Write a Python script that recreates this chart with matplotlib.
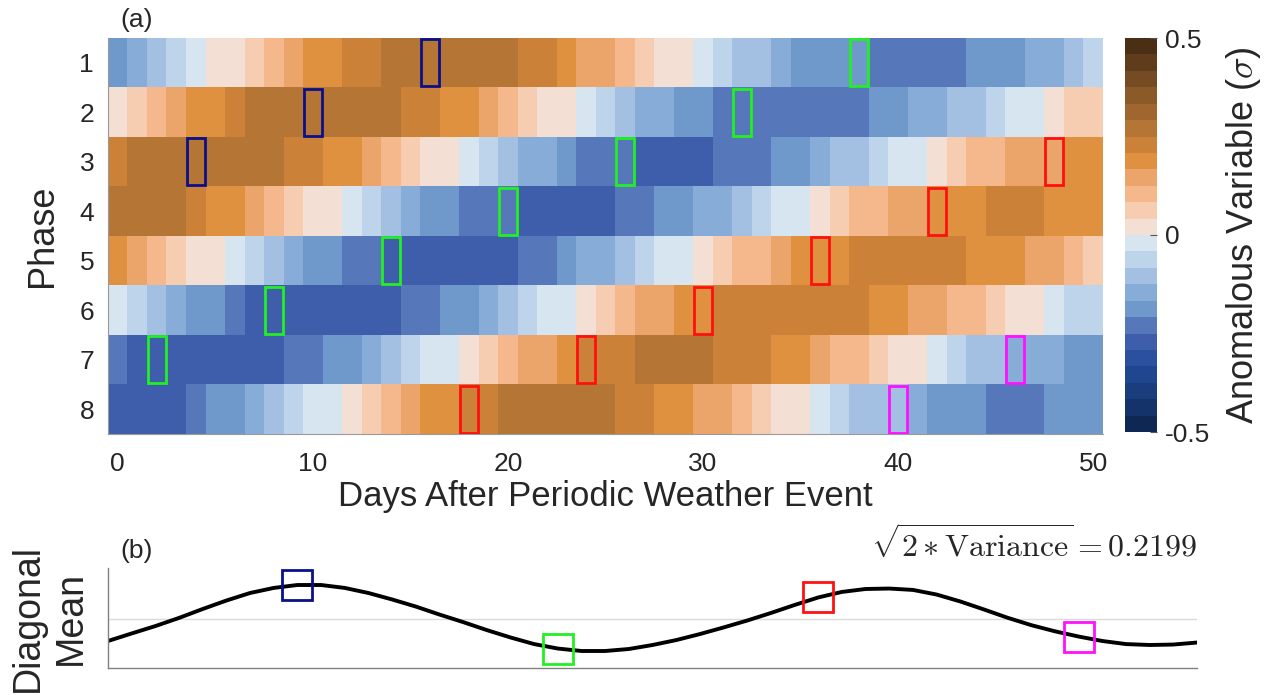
import numpy as np
import matplotlib
matplotlib.use("Agg")
import matplotlib.pyplot as plt
from matplotlib.colors import ListedColormap, Normalize
from matplotlib.patches import Rectangle

plt.rcParams['font.family'] = ['Liberation Sans', 'DejaVu Sans']
plt.rcParams['mathtext.fontset'] = 'cm'
TXT = '#262626'

# composite anomaly (sigma) by phase, days 0..50
phase1 = [-0.19,-0.15,-0.10,-0.06,-0.02, 0.02,0.02,0.06,0.10,0.15, 0.19,0.19,0.23,0.23,0.27,
          0.27,0.27,0.27,0.27,0.27, 0.27,0.23,0.23,0.19,0.15, 0.15,0.10,0.06,0.02,0.02,
          -0.02,-0.06,-0.10,-0.10,-0.15, -0.19,-0.19,-0.19,-0.19,-0.23, -0.23,-0.23,-0.23,-0.23,-0.19,
          -0.19,-0.19,-0.15,-0.15,-0.10, -0.06]
phase2 = [0.02,0.06,0.10,0.15,0.19, 0.19,0.23,0.27,0.27,0.27, 0.27,0.27,0.27,0.27,0.27,
          0.23,0.23,0.19,0.19,0.15, 0.10,0.06,0.02,0.02,-0.02, -0.06,-0.10,-0.15,-0.15,-0.19,
          -0.19,-0.23,-0.23,-0.23,-0.23, -0.23,-0.23,-0.23,-0.23,-0.19, -0.19,-0.15,-0.15,-0.10,-0.10,
          -0.06,-0.02,-0.02,0.02,0.06, 0.06]
phase3 = [0.23,0.27,0.27,0.27,0.27, 0.27,0.27,0.27,0.27,0.23, 0.23,0.19,0.19,0.15,0.10,
          0.06,0.02,0.02,-0.02,-0.06, -0.10,-0.15,-0.15,-0.19,-0.23, -0.23,-0.23,-0.27,-0.27,-0.27,
          -0.27,-0.23,-0.23,-0.23,-0.19, -0.19,-0.15,-0.10,-0.10,-0.06, -0.02,-0.02,0.02,0.06,0.10,
          0.10,0.15,0.15,0.15,0.19, 0.19]
phase4 = [0.27,0.27,0.27,0.27,0.23, 0.19,0.19,0.15,0.10,0.06, 0.02,0.02,-0.02,-0.06,-0.10,
          -0.15,-0.19,-0.19,-0.23,-0.23, -0.23,-0.27,-0.27,-0.27,-0.27, -0.27,-0.23,-0.23,-0.19,-0.19,
          -0.15,-0.15,-0.10,-0.06,-0.02, -0.02,0.02,0.06,0.10,0.10, 0.15,0.15,0.19,0.19,0.19,
          0.23,0.23,0.23,0.19,0.19, 0.19]
phase5 = [0.19,0.15,0.10,0.06,0.02, 0.02,-0.02,-0.06,-0.10,-0.15, -0.19,-0.19,-0.23,-0.23,-0.27,
          -0.27,-0.27,-0.27,-0.27,-0.27, -0.27,-0.23,-0.23,-0.19,-0.15, -0.15,-0.10,-0.06,-0.02,-0.02,
          0.02,0.06,0.10,0.10,0.15, 0.19,0.19,0.19,0.23,0.23, 0.23,0.23,0.23,0.23,0.19,
          0.19,0.19,0.15,0.15,0.10, 0.06]
phase6 = [-0.02,-0.06,-0.10,-0.15,-0.19, -0.19,-0.23,-0.27,-0.27,-0.27, -0.27,-0.27,-0.27,-0.27,-0.27,
          -0.23,-0.23,-0.19,-0.19,-0.15, -0.10,-0.06,-0.02,-0.02,0.02, 0.06,0.10,0.15,0.15,0.19,
          0.19,0.23,0.23,0.23,0.23, 0.23,0.23,0.23,0.23,0.19, 0.19,0.15,0.15,0.10,0.10,
          0.06,0.02,0.02,-0.02,-0.06, -0.06]
phase7 = [-0.23,-0.27,-0.27,-0.27,-0.27, -0.27,-0.27,-0.27,-0.27,-0.23, -0.23,-0.19,-0.19,-0.15,-0.10,
          -0.06,-0.02,-0.02,0.02,0.06, 0.10,0.15,0.15,0.19,0.23, 0.23,0.23,0.27,0.27,0.27,
          0.27,0.23,0.23,0.23,0.19, 0.19,0.15,0.10,0.10,0.06, 0.02,0.02,-0.02,-0.06,-0.10,
          -0.10,-0.15,-0.15,-0.15,-0.19, -0.19]
phase8 = [-0.27,-0.27,-0.27,-0.27,-0.23, -0.19,-0.19,-0.15,-0.10,-0.06, -0.02,-0.02,0.02,0.06,0.10,
          0.15,0.19,0.19,0.23,0.23, 0.27,0.27,0.27,0.27,0.27, 0.27,0.23,0.23,0.19,0.19,
          0.15,0.15,0.10,0.06,0.02, 0.02,-0.02,-0.06,-0.10,-0.10, -0.10,-0.15,-0.19,-0.19,-0.19,
          -0.23,-0.23,-0.23,-0.19,-0.19, -0.19]
phases = [1, 2, 3, 4, 5, 6, 7, 8]
days = np.arange(51)

# diagonal tracks: start day in phase 1, shift per phase
diag_start = [16, 38, 60, 82]
diag_color = ['#0a0f8a', '#22f022', '#ff1010', '#ff10ff']
phase_lag = 6

# mean along the diagonal, every 2 days
mean_day = list(range(0, 93, 2))
mean_val = [-0.143, -0.094, -0.046, 0.007, 0.065, 0.120, 0.169, 0.202, 0.221, 0.221,
            0.202, 0.169, 0.127, 0.081, 0.029, -0.020, -0.072, -0.120, -0.163, -0.192,
            -0.208, -0.208, -0.195, -0.169, -0.137, -0.098, -0.055, -0.010, 0.039, 0.091,
            0.140, 0.176, 0.195, 0.198, 0.189, 0.159, 0.114, 0.062, 0.008, -0.040,
            -0.080, -0.114, -0.143, -0.163, -0.169, -0.166, -0.153]
amp_text = r'$\sqrt{2\ast\mathrm{Variance}} = 0.2199$'

# 24-step brown/blue diverging palette
blues = ['#0f2853', '#14336a', '#193d7d', '#1f4790', '#2a509f', '#3e5eab',
         '#5678bb', '#6f98cb', '#88acd8', '#a3c0e2', '#bed4ea', '#d6e5f0']
browns = ['#f3dfd3', '#f6cdb0', '#f4b88c', '#eba46a', '#df913f', '#cb8137',
          '#b47535', '#9f672f', '#8a5a29', '#744b22', '#5f3d1c', '#4a2f15']
cmap = ListedColormap(blues + browns)
norm = Normalize(-0.5, 0.5)

W, H = 1271, 695
fig = plt.figure(figsize=(W / 100, H / 100), dpi=100)

# (a) heatmap
ax = fig.add_axes([108 / W, 1 - 434 / H, 995 / W, 396 / H])
grid = np.array([phase1, phase2, phase3, phase4, phase5, phase6, phase7, phase8])
im = ax.imshow(grid, cmap=cmap, norm=norm, aspect='auto', interpolation='nearest',
               extent=(days[0] - 0.5, days[-1] + 0.5, phases[-1] + 0.5, phases[0] - 0.5))
for s, c in zip(diag_start, diag_color):
    for p in phases:
        d = s - phase_lag * (p - 1)
        if days[0] <= d <= days[-1]:
            ax.add_patch(Rectangle((d - 0.45, p - 0.47), 0.9, 0.94, fill=False,
                                   ec=c, lw=2.0, zorder=3))
ax.set_xticks([0, 10, 20, 30, 40, 50])
ax.set_yticks(phases)
ax.tick_params(axis='x', length=0, labelsize=19, labelcolor=TXT, pad=13)
ax.tick_params(axis='y', length=0, labelsize=19, labelcolor=TXT, pad=10)
ax.set_xlabel('Days After Periodic Weather Event', fontsize=25, color=TXT, labelpad=3)
ax.set_ylabel('Phase', fontsize=26, color=TXT, labelpad=14)
for side in ['top', 'right']:
    ax.spines[side].set_visible(False)
for side in ['left', 'bottom']:
    ax.spines[side].set_color('#9a9a9a')
    ax.spines[side].set_linewidth(0.8)
fig.text(120 / W, 1 - 20 / H, '(a)', fontsize=19, color=TXT, va='center')

cax = fig.add_axes([1125 / W, 1 - 432 / H, 32 / W, 394 / H])
cb = fig.colorbar(im, cax=cax, ticks=[-0.5, 0, 0.5])
cb.ax.set_yticklabels(['-0.5', '0', '0.5'])
cb.ax.tick_params(direction='in', length=5, width=0.8, color='#555555',
                  labelsize=19, labelcolor=TXT, pad=6)
cb.outline.set_visible(False)
cb.set_label(r'Anomalous Variable ($\sigma$)', fontsize=26, color=TXT, labelpad=10)

# (b) diagonal mean
bx = fig.add_axes([108 / W, 1 - 668 / H, 1089 / W, 100 / H])
bx.axhline(0, color='#dadada', lw=1.0, zorder=1)
bx.plot(mean_day, mean_val, color='black', lw=2.8, zorder=2)
box_y = np.interp(diag_start, mean_day, mean_val)
for s, y, c in zip(diag_start, box_y, diag_color):
    bx.plot(s, y, marker='s', ms=21, mfc='none', mec=c, mew=2.0, zorder=3)
bx.set_xlim(mean_day[0], mean_day[-1])
bx.set_ylim(-0.3185, 0.3315)
bx.set_xticks([])
bx.set_yticks([])
for side in ['top', 'right']:
    bx.spines[side].set_visible(False)
for side in ['left', 'bottom']:
    bx.spines[side].set_color('#808080')
    bx.spines[side].set_linewidth(1.0)
bx.set_ylabel('Diagonal\nMean', fontsize=27, color=TXT, labelpad=14, linespacing=1.25)
bx.text(1.0, 1.04, amp_text, transform=bx.transAxes, ha='right', va='bottom',
        fontsize=23, color=TXT)
fig.text(120 / W, 1 - 551 / H, '(b)', fontsize=19, color=TXT, va='center')

fig.savefig('out.png', dpi=100)
